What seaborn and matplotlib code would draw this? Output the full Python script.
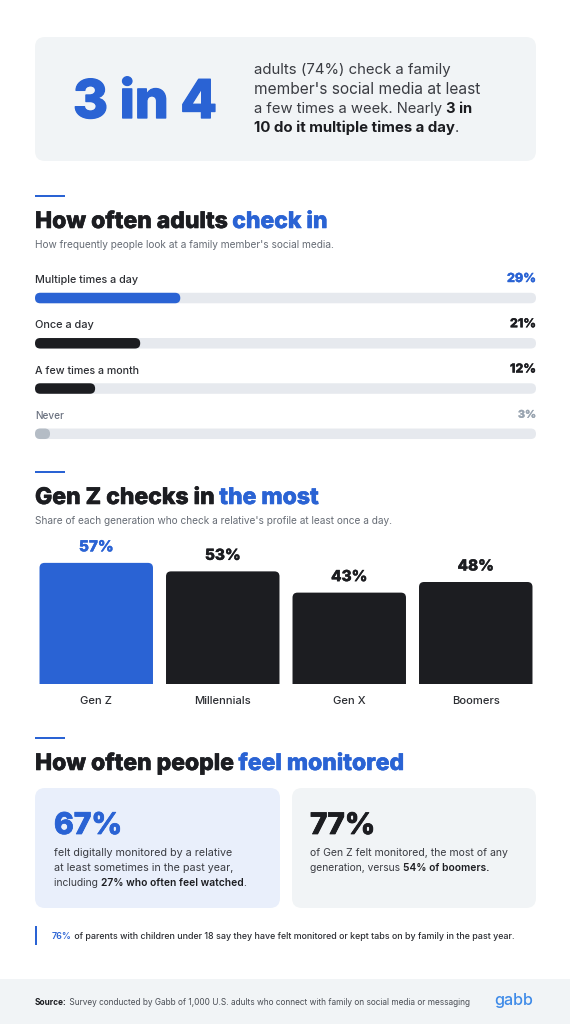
import matplotlib
matplotlib.use("Agg")
import matplotlib.pyplot as plt
import matplotlib.patheffects as pe
from matplotlib.patches import FancyBboxPatch, Rectangle
from matplotlib.transforms import IdentityTransform
import seaborn as sns

# ---- data ----
freq_labels = ["Multiple times a day", "Once a day", "A few times a month", "Never"]
freq_values = [29, 21, 12, 3]
freq_track = [100, 100, 100, 100]
gen_labels = ["Gen Z", "Millennials", "Gen X", "Boomers"]
gen_values = [57, 53, 43, 48]

BLUE = "#2a63d4"; DARK = "#1c1d21"; TRACK = "#e6e9ee"; CARD = "#f1f4f6"; LBLUE = "#e9effb"
GREY = "#b4bcc5"; GREYT = "#9aa5b1"; BODY = "#3a3c42"; SUB = "#666c75"
FONT = ["Inter", "DejaVu Sans"]

sns.set_theme(style="white")
plt.rcParams["font.family"] = FONT
W, H = 570, 1024
fig = plt.figure(figsize=(W / 100, H / 100), dpi=100, facecolor="white")
bg = fig.add_axes([0, 0, 1, 1], zorder=0)
bg.set_xlim(0, W); bg.set_ylim(H, 0); bg.axis("off")
rend = fig.canvas.get_renderer()


def px_axes(x0, x1, ytop, ybot, z=2):
    a = fig.add_axes([x0 / W, 1 - ybot / H, (x1 - x0) / W, (ybot - ytop) / H], zorder=z)
    a.patch.set_alpha(0)
    return a


def measure(s, size, weight):
    def w(t):
        tx = bg.text(0, 0, t, fontsize=size, fontweight=weight, family=FONT)
        v = tx.get_window_extent(rend).width
        tx.remove()
        return v
    return w("|" + s + "|") - w("||")


def heavy(size, color):
    return [pe.withStroke(linewidth=size * 0.025, foreground=color)]


def rich(x0, x1, y, segs):
    """segs: (text, colour, weight); text is fitted to span x0..x1 on baseline y."""
    total = sum(measure(t, 20, wt) for t, _, wt in segs)
    size = 20 * (x1 - x0) / total
    x = x0
    for t, c, wt in segs:
        tx = bg.text(x, y, t, fontsize=size, color=c, fontweight=wt, va="baseline", ha="left", family=FONT)
        if wt == 800:
            tx.set_path_effects(heavy(size, c))
        x += measure(t, size, wt)
    return size


def card(x0, y0, x1, y1, color, r=10):
    bg.add_patch(FancyBboxPatch((x0 + r, y0 + r), x1 - x0 - 2 * r, y1 - y0 - 2 * r,
                                boxstyle=f"round,pad={r},rounding_size={r}", fc=color, ec="none"))


def rule(y):
    bg.add_patch(Rectangle((35, y - 1.2), 30, 2.4, fc=BLUE, ec="none"))


# ---- hero ----
card(35, 37, 536, 161, CARD)
rich(73, 217, 118, [("3 in 4", BLUE, 800)])
rich(254, 451, 74, [("adults (74%) check a family", BODY, 400)])
rich(254, 480, 94, [("member's social media at least", BODY, 400)])
rich(254, 473, 113, [("a few times a week. Nearly ", BODY, 400), ("3 in", DARK, 700)])
rich(254, 460, 132, [("10 do it multiple times a day", DARK, 700), (".", BODY, 400)])

# ---- section 1 ----
rule(196)
rich(35, 328, 228, [("How often adults ", DARK, 800), ("check in", BLUE, 800)])
rich(35, 335, 248, [("How frequently people look at a family member's social media.", SUB, 400)])

ax1 = px_axes(35, 536, 275.4, 456.4)
sns.barplot(x=freq_track, y=freq_labels, color=TRACK, orient="h", width=0.232, ax=ax1, saturation=1)
sns.barplot(x=freq_values, y=freq_labels, hue=freq_labels, palette=[BLUE, DARK, DARK, GREY],
            orient="h", width=0.232, dodge=False, legend=False, ax=ax1, saturation=1)
ax1.set_xlim(0, 100); ax1.set_ylim(3.5, -0.5)
ax1.axis("off")
lab_w = [103, 59, 104, 29]
pct_w = [29, 26, 26, 18]
lab_col = ["#2c2e33", "#2c2e33", "#2c2e33", "#6b7280"]
pct_col = [BLUE, DARK, DARK, GREYT]
for i, (lab, val) in enumerate(zip(freq_labels, freq_values)):
    yc = ax1.transData.transform((0, i))[1]
    y = H - yc
    rich(35, 35 + lab_w[i], y - 15, [(lab, lab_col[i], 500)])
    rich(536 - pct_w[i], 536, y - 16, [(f"{val}%", pct_col[i], 800)])

# ---- section 2 ----
rule(472)
rich(35, 319, 504, [("Gen Z checks in ", DARK, 800), ("the most", BLUE, 800)])
rich(35, 393, 524, [("Share of each generation who check a relative's profile at least once a day.", SUB, 400)])

ax2 = px_axes(33, 539, 556.5, 684)
sns.barplot(x=gen_labels, y=gen_values, hue=gen_labels, palette=[BLUE, DARK, DARK, DARK],
            width=0.897, dodge=False, legend=False, ax=ax2, saturation=1)
ax2.set_xlim(-0.5, 3.5); ax2.set_ylim(0, 60)
ax2.set_xlabel(""); ax2.set_ylabel("")
ax2.set_yticks([])
sns.despine(ax=ax2, left=True, bottom=True)
ax2.tick_params(axis="x", length=0, pad=9, labelsize=8.1, labelcolor="#2c2e33")
for lb in ax2.get_xticklabels():
    lb.set_fontweight(500)
for i, v in enumerate(gen_values):
    c = BLUE if i == 0 else DARK
    t = ax2.annotate(f"{v}%", (i, v), xytext=(0, 11.5 * 0.72), textcoords="offset points", ha="center", va="baseline",
                     fontsize=11, fontweight=800, color=c, annotation_clip=False)
    t.set_path_effects(heavy(11, c))

# ---- section 3 ----
rule(738)
rich(35, 405, 770, [("How often people ", DARK, 800), ("feel monitored", BLUE, 800)])
card(35, 788, 280, 908, LBLUE)
card(292, 788, 536, 908, CARD)
rich(54, 122, 834, [("67%", BLUE, 800)])
rich(310, 375, 834, [("77%", DARK, 800)])
rich(54, 232, 856, [("felt digitally monitored by a relative", BODY, 400)])
rich(54, 233, 871, [("at least sometimes in the past year,", BODY, 400)])
rich(54, 246, 886, [("including ", BODY, 400), ("27% who often feel watched", DARK, 600), (".", BODY, 400)])
rich(310, 508, 856, [("of Gen Z felt monitored, the most of any", BODY, 400)])
rich(310, 489, 871, [("generation, versus ", BODY, 400), ("54% of boomers.", DARK, 600)])

bg.add_patch(Rectangle((35, 926), 2, 19, fc=BLUE, ec="none"))
rich(52, 515, 939, [("76%", BLUE, 600),
                    (" of parents with children under 18 say they have felt monitored or kept tabs on by family in the past year.", "#2c2e33", 500)])

# ---- footer ----
bg.add_patch(Rectangle((0, 979), W, 45, fc=CARD, ec="none"))
rich(35, 472, 1005, [("Source:", DARK, 700),
                     (" Survey conducted by Gabb of 1,000 U.S. adults who connect with family on social media or messaging", "#4a4e55", 400)])
rich(494, 533, 1005, [("gabb", "#3f8be8", 500)])

# ---- rounded bars: each library bar is redrawn from its own extents with rounded corners ----
fig.canvas.draw()
for a, r, top_only in [(ax1, 5.2, False), (ax2, 5, True)]:
    for p in list(a.patches):
        b = p.get_window_extent(rend)
        p.set_visible(False)
        if b.width < 1 or b.height < 1:
            continue
        extra = 2 * r if top_only else 0
        rr = FancyBboxPatch((b.x0 + r, b.y0 + r - extra), b.width - 2 * r, b.height - 2 * r + extra,
                            boxstyle=f"round,pad={r},rounding_size={r}", transform=IdentityTransform(),
                            fc=p.get_facecolor(), ec="none", zorder=p.get_zorder())
        a.add_artist(rr)
        if top_only:
            rr.set_clip_box(a.bbox)
        else:
            rr.set_clip_on(False)

fig.savefig("out.png", dpi=100, facecolor="white")
